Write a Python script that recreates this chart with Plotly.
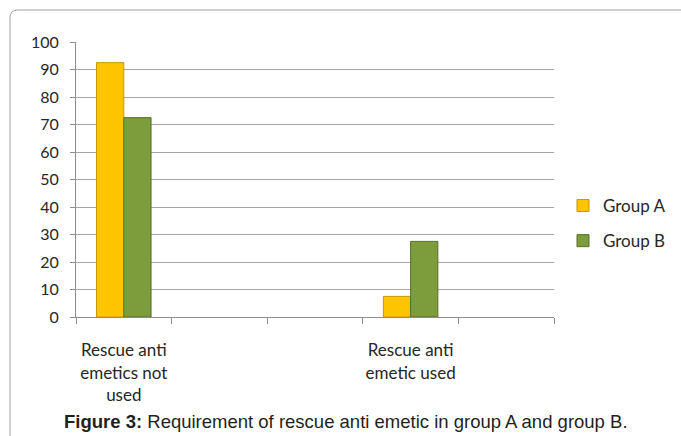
import plotly.graph_objects as go

# Category slots along the x axis (five slots, two of them labelled)
slot_positions = [1, 4]
slot_labels = ["Rescue anti<br>emetics not<br>used", "Rescue anti<br>emetic used"]
slot_bounds = [0.5, 1.5, 2.5, 3.5, 4.5, 5.5]

# Percentages of patients per group
group_a = [92.5, 7.5]
group_b = [72.5, 27.5]

y_ticks = list(range(0, 101, 10))

W, H = 681, 436
L, R, T, B = 76, 127, 42, 119
pw, ph = W - L - R, H - T - B

bar_w = 0.285

fig = go.Figure()
fig.add_trace(go.Bar(
    name="Group A", x=slot_positions, y=group_a, width=bar_w, offset=-bar_w,
    marker=dict(color="#FFC400", line=dict(color="#C89600", width=1)),
    legendgroup="a",
))
fig.add_trace(go.Bar(
    name="Group B", x=slot_positions, y=group_b, width=bar_w, offset=0,
    marker=dict(color="#7D9D3D", line=dict(color="#56702A", width=1)),
    legendgroup="b",
))


def px_x(p):
    return (p - L) / pw


def px_y(p):
    return (H - B - p) / ph


# Rounded frame around the chart
r = 8
x0, y0 = 10, 10
x1, y1 = 700, 460
path = (
    f"M {px_x(x0)},{px_y(y1)} L {px_x(x0)},{px_y(y0 + r)} "
    f"Q {px_x(x0)},{px_y(y0)} {px_x(x0 + r)},{px_y(y0)} "
    f"L {px_x(x1)},{px_y(y0)}"
)
fig.add_shape(type="path", path=path, xref="paper", yref="paper",
              line=dict(color="#A0A0A0", width=1))

fig.add_annotation(
    x=px_x(346), y=px_y(421), xref="paper", yref="paper",
    text="<b>Figure 3:</b> Requirement of rescue anti emetic in group A and group B.",
    showarrow=False, xanchor="center", yanchor="middle",
    font=dict(family="Liberation Sans, Arial", size=18.5, color="#231F20"),
)

fig.update_layout(
    width=W, height=H,
    margin=dict(l=L, r=R, t=T, b=B, pad=0, autoexpand=False),
    paper_bgcolor="white", plot_bgcolor="white",
    barmode="overlay",
    font=dict(family="Lato, Open Sans, sans-serif", size=17, color="#262626"),
    showlegend=True,
    legend=dict(xref="container", yref="container",
                x=563 / W, y=(H - 188) / H, xanchor="left", yanchor="top",
                tracegroupgap=10, font=dict(size=17, color="#262626"),
                itemwidth=30, bgcolor="rgba(0,0,0,0)"),
    xaxis=dict(
        range=[0.5, 5.5], tickvals=slot_positions, ticktext=slot_labels,
        ticks="", showgrid=False, zeroline=False,
        showline=True, linecolor="#8C8C8C", linewidth=1,
        ticklabelstandoff=18, tickfont=dict(size=17),
        minor=dict(tickvals=slot_bounds, ticks="outside", ticklen=6,
                   tickcolor="#8C8C8C", showgrid=False),
    ),
    yaxis=dict(
        range=[0, 100], tickvals=y_ticks, ticks="outside", ticklen=5,
        tickcolor="#8C8C8C", showline=True, linecolor="#8C8C8C", linewidth=1,
        showgrid=True, gridcolor="#A6A6A6", gridwidth=1, zeroline=False,
        ticklabelstandoff=8, tickfont=dict(size=16),
    ),
)

fig.write_html("out.html")
